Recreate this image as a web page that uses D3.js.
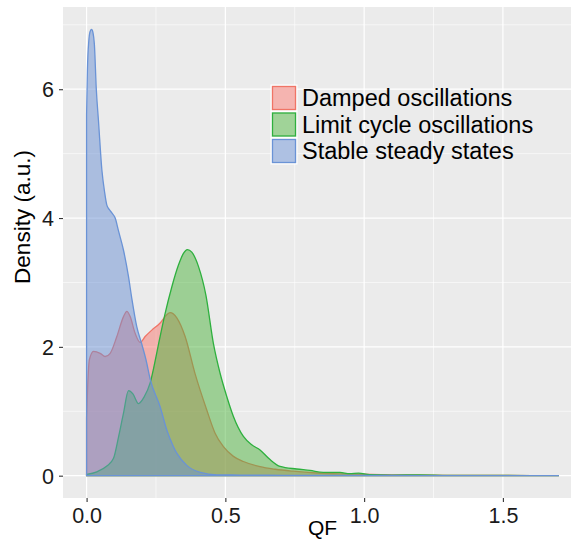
<!DOCTYPE html>
<html>
<head>
<meta charset="utf-8">
<script src="https://cdn.jsdelivr.net/npm/d3@7"></script>
<style>
  html, body { margin: 0; padding: 0; background: #fff; }
  svg { display: block; font-family: "Liberation Sans", Arial, Helvetica, sans-serif; }
</style>
</head>
<body>
<svg id="chart" width="571" height="541"></svg>
<script>
// ---- Data ----
const seriesNames = ["Damped oscillations", "Limit cycle oscillations", "Stable steady states"];
const seriesStroke = ["#F07466", "#2EB03E", "#6A93D6"];
const seriesFill = ["#F8766D", "#4DB33D", "#6A8FD3"];

const qfDamped = [0, 0.004, 0.01, 0.025, 0.049, 0.067, 0.085, 0.109, 0.133, 0.145, 0.157, 0.175, 0.193, 0.211, 0.235, 0.265, 0.289, 0.301, 0.325, 0.355, 0.391, 0.433, 0.463, 0.493, 0.529, 0.565, 0.625, 0.68, 0.744, 0.829, 0.948, 1.1, 1.3, 1.5, 1.7];
const denDamped = [0.9, 1.4, 1.8, 1.93, 1.9, 1.85, 1.9, 2.16, 2.47, 2.55, 2.47, 2.21, 2.07, 2.16, 2.26, 2.37, 2.5, 2.53, 2.45, 2.16, 1.58, 1.02, 0.66, 0.45, 0.30, 0.22, 0.14, 0.1, 0.07, 0.042, 0.026, 0.012, 0.006, 0.003, 0.002];

const qfLimit = [0, 0.037, 0.073, 0.097, 0.115, 0.133, 0.151, 0.167, 0.187, 0.207, 0.229, 0.245, 0.262, 0.283, 0.307, 0.331, 0.349, 0.363, 0.379, 0.403, 0.43, 0.457, 0.481, 0.505, 0.529, 0.565, 0.595, 0.625, 0.661, 0.697, 0.757, 0.805, 0.853, 0.913, 0.948, 0.98, 1.02, 1.1, 1.2, 1.3, 1.5, 1.7];
const denLimit = [0.02, 0.06, 0.15, 0.27, 0.6, 0.97, 1.32, 1.27, 1.12, 1.22, 1.44, 1.74, 2.1, 2.52, 2.93, 3.27, 3.45, 3.51, 3.47, 3.25, 2.8, 2.05, 1.59, 1.23, 0.92, 0.61, 0.48, 0.40, 0.25, 0.144, 0.104, 0.082, 0.051, 0.05, 0.031, 0.04, 0.015, 0.01, 0.012, 0.006, 0.003, 0.001];

const qfStable = [0, 0.003, 0.008, 0.013, 0.018, 0.023, 0.028, 0.035, 0.043, 0.055, 0.065, 0.073, 0.082, 0.091, 0.103, 0.115, 0.133, 0.151, 0.163, 0.181, 0.199, 0.214, 0.229, 0.265, 0.289, 0.313, 0.325, 0.361, 0.41, 0.47, 0.55, 0.65, 0.8, 1.0, 1.2, 1.4, 1.7];
const denStable = [5.6, 6.3, 6.75, 6.9, 6.93, 6.88, 6.7, 6.0, 5.5, 4.75, 4.4, 4.2, 4.13, 4.08, 4.0, 3.8, 3.5, 3.09, 2.75, 2.31, 2.04, 1.8, 1.5, 1.07, 0.71, 0.45, 0.35, 0.16, 0.05, 0.012, 0.01, 0.008, 0.004, 0.003, 0.002, 0.001, 0.001];

const xTicks = [0, 0.5, 1.0, 1.5];
const xTickLabels = ["0.0", "0.5", "1.0", "1.5"];
const xMinor = [0.25, 0.75, 1.25, 1.75];
const yTicks = [0, 2, 4, 6];
const yTickLabels = ["0", "2", "4", "6"];
const yMinor = [1, 3, 5, 7];
const xTitle = "QF";
const yTitle = "Density (a.u.)";

// ---- Layout ----
const panel = { left: 63, top: 7, right: 582, bottom: 498 };
const svg = d3.select("#chart");

const x = d3.scaleLinear().domain([-0.085, 1.785]).range([panel.left, panel.right]);
const y = d3.scaleLinear().domain([-0.3465, 7.2765]).range([panel.bottom, panel.top]);

svg.append("defs").append("clipPath").attr("id", "clip")
  .append("rect").attr("x", panel.left).attr("y", panel.top)
  .attr("width", panel.right - panel.left).attr("height", panel.bottom - panel.top);

svg.append("rect").attr("x", panel.left).attr("y", panel.top)
  .attr("width", panel.right - panel.left).attr("height", panel.bottom - panel.top)
  .attr("fill", "#EBEBEB");

const grid = svg.append("g").attr("clip-path", "url(#clip)");
grid.selectAll(".xminor").data(xMinor).enter().append("line")
  .attr("x1", d => x(d)).attr("x2", d => x(d)).attr("y1", panel.top).attr("y2", panel.bottom)
  .attr("stroke", "#fff").attr("stroke-width", 0.6);
grid.selectAll(".yminor").data(yMinor).enter().append("line")
  .attr("y1", d => y(d)).attr("y2", d => y(d)).attr("x1", panel.left).attr("x2", panel.right)
  .attr("stroke", "#fff").attr("stroke-width", 0.6);
grid.selectAll(".xmajor").data(xTicks).enter().append("line")
  .attr("x1", d => x(d)).attr("x2", d => x(d)).attr("y1", panel.top).attr("y2", panel.bottom)
  .attr("stroke", "#fff").attr("stroke-width", 1.2);
grid.selectAll(".ymajor").data(yTicks).enter().append("line")
  .attr("y1", d => y(d)).attr("y2", d => y(d)).attr("x1", panel.left).attr("x2", panel.right)
  .attr("stroke", "#fff").attr("stroke-width", 1.2);

// ---- Density areas ----
const series = [
  { qf: qfDamped, den: denDamped },
  { qf: qfLimit, den: denLimit },
  { qf: qfStable, den: denStable }
];
const area = d3.area()
  .x(d => x(d[0])).y0(y(0)).y1(d => y(d[1]))
  .curve(d3.curveMonotoneX);

const plot = svg.append("g").attr("clip-path", "url(#clip)");
series.forEach((s, i) => {
  const pts = s.qf.map((q, j) => [q, s.den[j]]);
  plot.append("path")
    .attr("d", area(pts))
    .attr("fill", seriesFill[i]).attr("fill-opacity", 0.5)
    .attr("stroke", seriesStroke[i]).attr("stroke-width", 1.3)
    .attr("stroke-linejoin", "round");
});

// ---- Axes ----
const xAxis = svg.append("g").attr("transform", `translate(0,${panel.bottom})`)
  .call(d3.axisBottom(x).tickValues(xTicks).tickFormat((d, i) => xTickLabels[i]).tickSize(4).tickPadding(6));
const yAxis = svg.append("g").attr("transform", `translate(${panel.left},0)`)
  .call(d3.axisLeft(y).tickValues(yTicks).tickFormat((d, i) => yTickLabels[i]).tickSize(4).tickPadding(5));
[xAxis, yAxis].forEach(a => {
  a.select(".domain").remove();
  a.selectAll(".tick line").attr("stroke", "#333").attr("stroke-width", 1.1);
  a.selectAll(".tick text").attr("fill", "#1a1a1a").attr("font-size", 21.5)
    .attr("font-family", "'Liberation Sans', Arial, sans-serif");
});
xAxis.selectAll(".tick text").attr("dy", "0.71em");
yAxis.selectAll(".tick text").attr("dy", "0.35em");

svg.append("text").attr("x", (panel.left + panel.right) / 2).attr("y", 535)
  .attr("text-anchor", "middle").attr("font-size", 21).attr("fill", "#000").text(xTitle);
svg.append("text").attr("transform", `translate(30,217) rotate(-90)`)
  .attr("text-anchor", "middle").attr("font-size", 22.5).attr("fill", "#000").text(yTitle);

// ---- Legend ----
const legend = svg.append("g").attr("transform", "translate(271,85)");
seriesNames.forEach((name, i) => {
  const g = legend.append("g").attr("transform", `translate(0,${i * 26.5})`);
  g.append("rect").attr("x", 0).attr("y", 0).attr("width", 26).attr("height", 26)
    .attr("fill", "#F2F2F2").attr("stroke", "#fff").attr("stroke-width", 1);
  g.append("rect").attr("x", 1.5).attr("y", 1.5).attr("width", 23).attr("height", 23)
    .attr("fill", seriesFill[i]).attr("fill-opacity", 0.5)
    .attr("stroke", seriesStroke[i]).attr("stroke-width", 1.3);
  g.append("text").attr("x", 31).attr("y", 13).attr("dy", "0.35em")
    .attr("font-size", 23.5).attr("fill", "#000").text(name);
});
</script>
</body>
</html>
